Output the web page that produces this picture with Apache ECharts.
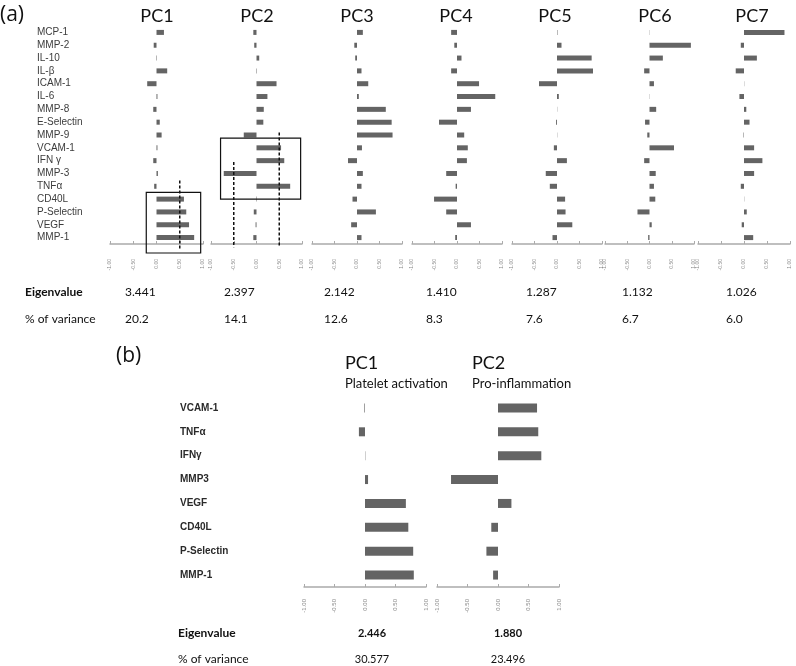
<!DOCTYPE html>
<html>
<head>
<meta charset="utf-8">
<script src="https://cdn.jsdelivr.net/npm/echarts@6/dist/echarts.min.js"></script>
<style>html,body{margin:0;padding:0;background:#fff;}#c{width:796px;height:666px;}</style>
</head>
<body>
<div id="c"></div>
<script>
// ---------- Panel (a) data ----------
const categoriesA = ['MCP-1','MMP-2','IL-10','IL-β','ICAM-1','IL-6','MMP-8','E-Selectin','MMP-9','VCAM-1','IFN γ','MMP-3','TNFα','CD40L','P-Selectin','VEGF','MMP-1'];
const pcNamesA = ['PC1','PC2','PC3','PC4','PC5','PC6','PC7'];
const pc1A = [0.16,-0.06,-0.01,0.23,-0.20,0.02,-0.07,0.07,0.11,0.02,-0.07,0.03,-0.05,0.59,0.64,0.70,0.81];
const pc2A = [-0.07,-0.05,0.06,0.01,0.44,0.24,0.16,0.15,-0.28,0.54,0.61,-0.72,0.74,0.01,-0.06,-0.02,-0.07];
const pc3A = [0.13,-0.06,-0.04,0.10,0.25,0.04,0.64,0.77,0.79,0.11,-0.20,0.13,0.10,-0.10,0.42,-0.13,0.10];
const pc4A = [-0.13,-0.06,0.10,-0.13,0.49,0.85,0.31,-0.40,0.16,0.24,0.22,-0.24,-0.03,-0.51,-0.24,0.31,-0.04];
const pc5A = [0.01,0.10,0.77,0.80,-0.40,0.04,0.005,-0.02,0.005,-0.07,0.22,-0.25,-0.16,0.18,0.19,0.34,-0.10];
const pc6A = [0.005,0.93,0.30,-0.12,0.10,0.005,0.15,-0.10,-0.05,0.55,-0.12,0.14,0.10,0.13,-0.27,0.05,-0.03];
const pc7A = [0.88,-0.07,0.28,-0.18,0.005,-0.10,0.05,0.12,-0.01,0.22,0.40,0.22,-0.07,0.005,0.06,-0.05,0.20];
const eigenA = ['3.441','2.397','2.142','1.410','1.287','1.132','1.026'];
const varianceA = ['20.2','14.1','12.6','8.3','7.6','6.7','6.0'];

// ---------- Panel (b) data ----------
const categoriesB = ['VCAM-1','TNFα','IFNγ','MMP3','VEGF','CD40L','P-Selectin','MMP-1'];
const pcNamesB = ['PC1','PC2'];
const subtitlesB = ['Platelet activation','Pro-inflammation'];
const pc1B = [-0.01,-0.10,0.005,0.05,0.67,0.71,0.79,0.80];
const pc2B = [0.64,0.66,0.71,-0.77,0.22,-0.11,-0.19,-0.08];
const eigenB = ['2.446','1.880'];
const varianceB = ['30.577','23.496'];

// axis ticks
const axisMin = -1, axisMax = 1, axisStep = 0.5;

// annotations (value units: x in loading, y in category index)
const boxesA = [
  {grid:0, x0:-0.22, x1:0.95, y0:12.47, y1:17.2},
  {grid:1, x0:-0.79, x1:0.97, y0:8.25, y1:13.0}
];
const dashesA = [
  {grid:0, x:0.5, y0:11.55, y1:16.85},
  {grid:1, x:-0.5, y0:10.1, y1:16.75},
  {grid:1, x:0.5, y0:7.8, y1:16.75}
];

// ---------- layout ----------
const seriesA = [pc1A,pc2A,pc3A,pc4A,pc5A,pc6A,pc7A];
const seriesB = [pc1B,pc2B];
const leftsA = [110,211,312,412,512,605,698];
const widthsA = [93,91,90,90,90,89,92];
const leftsB = [304,437];
const barColor = '#646464';
const axisColor = '#ababab';

const grids = [], xAxes = [], yAxes = [], series = [];
function addPanel(left, width, top, height, cats, data, showLabels, isB, idx) {
  grids.push({left:left, width:width, top:top, height:height});
  xAxes.push({
    type:'value', gridIndex:idx, min:axisMin, max:axisMax, interval:axisStep,
    axisLine:{show:true, lineStyle:{color:axisColor, width:1.5}},
    axisTick:{show:true, inside:true, length:3, lineStyle:{color:axisColor, width:1}},
    splitLine:{show:false},
    axisLabel:{show:true, rotate:90, fontSize:isB?6:5, color:'#8a8a8a', margin:isB?12:15,
      fontFamily:'Liberation Sans', hideOverlap:false, formatter:v=>v.toFixed(2)}
  });
  yAxes.push({
    type:'category', gridIndex:idx, data:cats, inverse:true,
    axisLine:{show:false}, axisTick:{show:false}, splitLine:{show:false},
    axisLabel: showLabels ? {show:true, interval:0, align:'left', margin:isB?124:73, fontSize:10,
      color:isB?'#2a2a2a':'#3c3c3c', fontWeight:isB?'bold':'normal', fontFamily:'Liberation Sans'} : {show:false}
  });
  series.push({type:'bar', xAxisIndex:idx, yAxisIndex:idx, data:data, barWidth:isB?9:5,
    itemStyle:{color:barColor}, silent:true, animation:false});
}
seriesA.forEach((d,i)=>addPanel(leftsA[i], widthsA[i], 26, 218, categoriesA, d, i===0, false, i));
seriesB.forEach((d,i)=>addPanel(leftsB[i], 122, 396, 191, categoriesB, d, i===0, true, 7+i));

const chart = echarts.init(document.getElementById('c'), null, {renderer:'canvas', width:796, height:666});
chart.setOption({animation:false, grid:grids, xAxis:xAxes, yAxis:yAxes, series:series});

// ---------- texts & annotations ----------
const g = [];
const titleFont = 'Lato';
function txt(x, y, s, size, opt) {
  opt = opt || {};
  g.push({type:'text', x:x, y:y, z:100, style:{text:s, fontSize:size, fontFamily:opt.font||titleFont,
    fontWeight:opt.weight||'normal', fill:opt.color||'#111', textAlign:opt.align||'left', textVerticalAlign:'middle'}});
}
txt(0, 15, '(a)', 21, {font:'Open Sans'});
txt(116, 356, '(b)', 21, {font:'Open Sans'});
const titleXA = [157,257,357,456,555,655,752];
pcNamesA.forEach((n,i)=>txt(titleXA[i], 16, n, 18, {align:'center'}));
const valXA = [125,224,324,426,526,622,726];
txt(25, 292, 'Eigenvalue', 12, {weight:'bold'});
txt(25, 319, '% of variance', 12);
eigenA.forEach((v,i)=>txt(valXA[i], 292, v, 12));
varianceA.forEach((v,i)=>txt(valXA[i], 319, v, 12));

const titleXB = [345,472];
pcNamesB.forEach((n,i)=>txt(titleXB[i], 363, n, 18));
subtitlesB.forEach((n,i)=>txt(titleXB[i], 384, n, 13));
txt(178, 633, 'Eigenvalue', 12, {weight:'bold'});
txt(178, 659, '% of variance', 12);
const valXB = [372,508];
eigenB.forEach((v,i)=>txt(valXB[i], 633, v, 11, {weight:'bold', align:'center'}));
varianceB.forEach((v,i)=>txt(valXB[i], 659, v, 11, {align:'center'}));

function px(gi, x, yi) {
  const xp = chart.convertToPixel({xAxisIndex:gi}, x);
  const ya = chart.convertToPixel({yAxisIndex:gi}, categoriesA[0]);
  const yb = chart.convertToPixel({yAxisIndex:gi}, categoriesA[16]);
  return [xp, ya + (yb - ya) * yi / 16];
}
boxesA.forEach(b=>{
  const p0 = px(b.grid, b.x0, b.y0), p1 = px(b.grid, b.x1, b.y1);
  g.push({type:'rect', z:100, shape:{x:p0[0], y:p0[1], width:p1[0]-p0[0], height:p1[1]-p0[1]},
    style:{fill:'none', stroke:'#111', lineWidth:1.2}});
});
dashesA.forEach(d=>{
  const p0 = px(d.grid, d.x, d.y0), p1 = px(d.grid, d.x, d.y1);
  g.push({type:'line', z:100, shape:{x1:p0[0], y1:p0[1], x2:p1[0], y2:p1[1]},
    style:{stroke:'#111', lineWidth:1.5, lineDash:[3,2]}});
});
chart.setOption({graphic:g});
</script>
</body>
</html>
